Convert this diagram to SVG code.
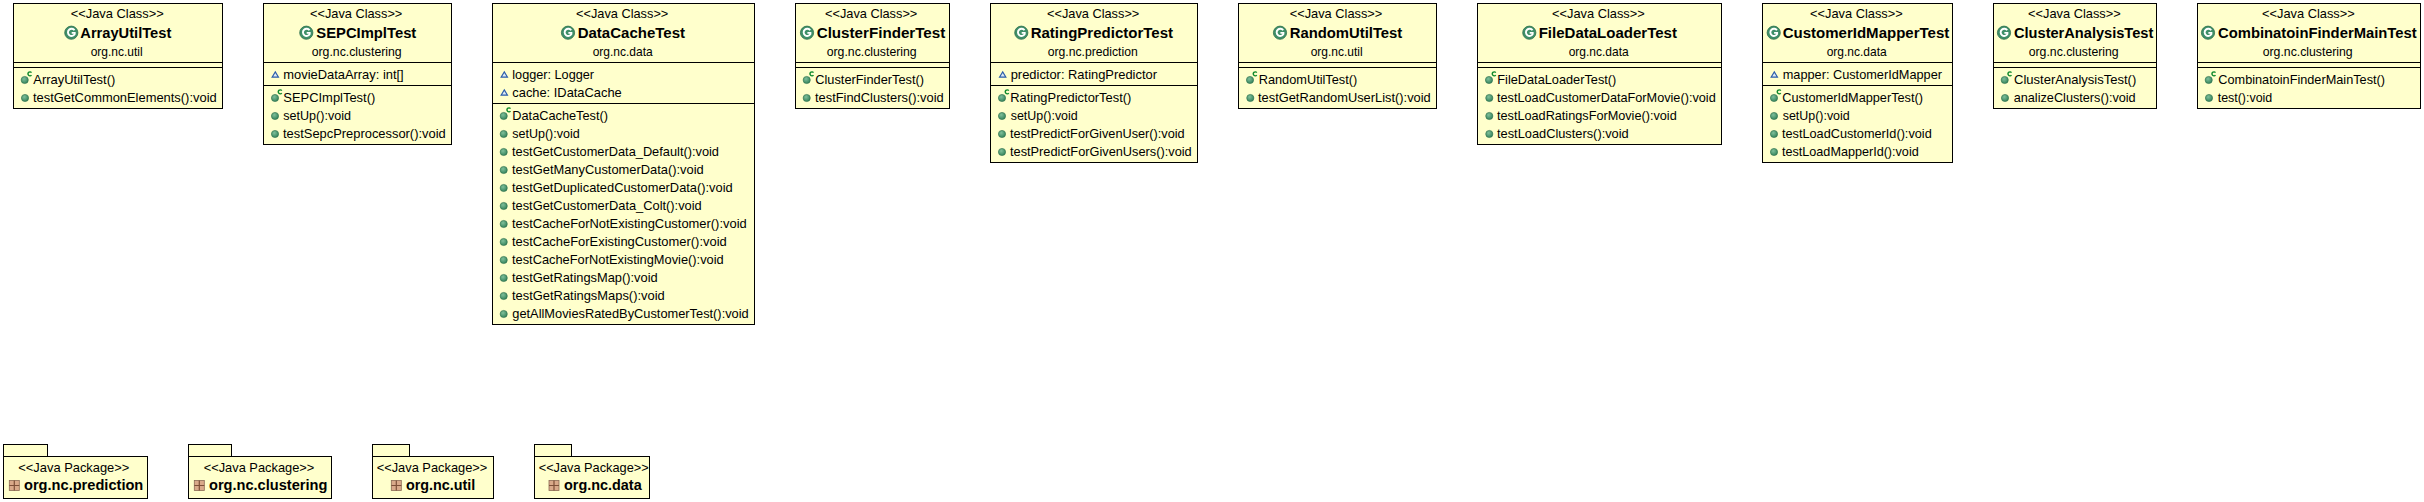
<svg xmlns="http://www.w3.org/2000/svg" width="2424" height="502" viewBox="0 0 2424 502">
<style>
text{font-family:"Liberation Sans",Arial,sans-serif;fill:#000;font-size:13px}
.n{font-weight:bold;font-size:14px}
.b{fill:#ffffcc;stroke:#000;stroke-width:1}
.l{stroke:#000;stroke-width:1;fill:none}
</style>
<defs>
<radialGradient id="gc" cx="40%" cy="35%" r="70%"><stop offset="0" stop-color="#7fbf9a"/><stop offset="1" stop-color="#2f7f57"/></radialGradient>
<g id="iClass"><circle r="6.6" fill="#3f8f68" stroke="#2c6e4c" stroke-width=".8"/><path d="M3.2 -2.4A3.6 3.6 0 1 0 3.4 1.4V.2H.4" fill="none" stroke="#fff" stroke-width="1.9"/></g>
<g id="iMethod"><circle r="3.6" fill="url(#gc)" stroke="#2c6e4c" stroke-width=".6"/></g>
<g id="iCtor"><circle r="3.6" fill="url(#gc)" stroke="#2c6e4c" stroke-width=".6"/><path d="M6.8 -7.4A2 2 0 1 0 6.8 -4.9" fill="none" stroke="#0f8a2c" stroke-width="1.4"/></g>
<path id="iField" d="M0 -2.8L3.2 2.4H-3.2Z" fill="#dbe8f5" stroke="#2a5caa" stroke-width="1.1"/>
<g id="iPkg"><rect x="-5" y="-5" width="10" height="10" fill="#d9a98a" stroke="#8a6a55" stroke-width=".8"/><path d="M-5 0H5M0 -5V5" stroke="#7d4f38" stroke-width="1.2"/></g>
</defs>
<rect width="2424" height="502" fill="#fff"/>
<g id="connectors"/>

<g id="ArrayUtilTest">
<rect class="b" x="13.5" y="3.5" width="209" height="105"/><path class="l" d="M13.5 62.5H222.5M13.5 67.5H222.5"/>
<text x="70.7" y="18" textLength="93" lengthAdjust="spacingAndGlyphs">&lt;&lt;Java Class&gt;&gt;</text>
<use href="#iClass" x="71.3" y="32.7"/>
<text class="n" x="80.3" y="38" textLength="91" lengthAdjust="spacingAndGlyphs">ArrayUtilTest</text>
<text x="90.7" y="56" textLength="52" lengthAdjust="spacingAndGlyphs">org.nc.util</text>
<use href="#iCtor" x="24.7" y="80"/><text x="33.3" y="84" textLength="82" lengthAdjust="spacingAndGlyphs">ArrayUtilTest()</text>
<use href="#iMethod" x="25" y="98"/><text x="33" y="102" textLength="183.7" lengthAdjust="spacingAndGlyphs">testGetCommonElements():void</text>
</g>

<g id="SEPCImplTest">
<rect class="b" x="263.5" y="3.5" width="188" height="141"/><path class="l" d="M263.5 62.5H451.5M263.5 85.5H451.5"/>
<text x="310" y="18" textLength="92.3" lengthAdjust="spacingAndGlyphs">&lt;&lt;Java Class&gt;&gt;</text>
<use href="#iClass" x="306.3" y="32.7"/>
<text class="n" x="316.3" y="38" textLength="100" lengthAdjust="spacingAndGlyphs">SEPCImplTest</text>
<text x="311.7" y="56" textLength="90" lengthAdjust="spacingAndGlyphs">org.nc.clustering</text>
<use href="#iField" x="275.3" y="74.7"/><text x="283.3" y="79" textLength="120.4" lengthAdjust="spacingAndGlyphs">movieDataArray: int[]</text>
<use href="#iCtor" x="275" y="98"/><text x="283.3" y="102" textLength="92" lengthAdjust="spacingAndGlyphs">SEPCImplTest()</text>
<use href="#iMethod" x="275" y="116"/><text x="283.3" y="120" textLength="67.7" lengthAdjust="spacingAndGlyphs">setUp():void</text>
<use href="#iMethod" x="275" y="134"/><text x="283" y="138" textLength="162.7" lengthAdjust="spacingAndGlyphs">testSepcPreprocessor():void</text>
</g>

<g id="DataCacheTest">
<rect class="b" x="492.5" y="3.5" width="262" height="321"/><path class="l" d="M492.5 62.5H754.5M492.5 103.5H754.5"/>
<text x="576" y="18" textLength="92.3" lengthAdjust="spacingAndGlyphs">&lt;&lt;Java Class&gt;&gt;</text>
<use href="#iClass" x="568" y="32.7"/>
<text class="n" x="577.7" y="38" textLength="107.3" lengthAdjust="spacingAndGlyphs">DataCacheTest</text>
<text x="592.7" y="56" textLength="60" lengthAdjust="spacingAndGlyphs">org.nc.data</text>
<use href="#iField" x="504.3" y="74.7"/><text x="512.3" y="79" textLength="81.7" lengthAdjust="spacingAndGlyphs">logger: Logger</text>
<use href="#iField" x="504.3" y="92.7"/><text x="512.3" y="97" textLength="109.4" lengthAdjust="spacingAndGlyphs">cache: IDataCache</text>
<use href="#iCtor" x="503.7" y="116"/><text x="512.3" y="120" textLength="95.7" lengthAdjust="spacingAndGlyphs">DataCacheTest()</text>
<use href="#iMethod" x="503.7" y="134"/><text x="512.3" y="138" textLength="67.4" lengthAdjust="spacingAndGlyphs">setUp():void</text>
<use href="#iMethod" x="503.7" y="152"/><text x="512" y="156" textLength="207" lengthAdjust="spacingAndGlyphs">testGetCustomerData_Default():void</text>
<use href="#iMethod" x="503.7" y="170"/><text x="512" y="174" textLength="191.7" lengthAdjust="spacingAndGlyphs">testGetManyCustomerData():void</text>
<use href="#iMethod" x="503.7" y="188"/><text x="512" y="192" textLength="220.7" lengthAdjust="spacingAndGlyphs">testGetDuplicatedCustomerData():void</text>
<use href="#iMethod" x="503.7" y="206"/><text x="512" y="210" textLength="189.7" lengthAdjust="spacingAndGlyphs">testGetCustomerData_Colt():void</text>
<use href="#iMethod" x="503.7" y="224"/><text x="512" y="228" textLength="234.7" lengthAdjust="spacingAndGlyphs">testCacheForNotExistingCustomer():void</text>
<use href="#iMethod" x="503.7" y="242"/><text x="512" y="246" textLength="214.7" lengthAdjust="spacingAndGlyphs">testCacheForExistingCustomer():void</text>
<use href="#iMethod" x="503.7" y="260"/><text x="512" y="264" textLength="211.7" lengthAdjust="spacingAndGlyphs">testCacheForNotExistingMovie():void</text>
<use href="#iMethod" x="503.7" y="278"/><text x="512" y="282" textLength="145.7" lengthAdjust="spacingAndGlyphs">testGetRatingsMap():void</text>
<use href="#iMethod" x="503.7" y="296"/><text x="512" y="300" textLength="152.7" lengthAdjust="spacingAndGlyphs">testGetRatingsMaps():void</text>
<use href="#iMethod" x="503.7" y="314"/><text x="512.3" y="318" textLength="236.4" lengthAdjust="spacingAndGlyphs">getAllMoviesRatedByCustomerTest():void</text>
</g>

<g id="ClusterFinderTest">
<rect class="b" x="795.5" y="3.5" width="154" height="105"/><path class="l" d="M795.5 62.5H949.5M795.5 67.5H949.5"/>
<text x="825" y="18" textLength="92.3" lengthAdjust="spacingAndGlyphs">&lt;&lt;Java Class&gt;&gt;</text>
<use href="#iClass" x="807" y="32.7"/>
<text class="n" x="816.7" y="38" textLength="128.6" lengthAdjust="spacingAndGlyphs">ClusterFinderTest</text>
<text x="826.7" y="56" textLength="90" lengthAdjust="spacingAndGlyphs">org.nc.clustering</text>
<use href="#iCtor" x="806.7" y="80"/><text x="815.3" y="84" textLength="108.7" lengthAdjust="spacingAndGlyphs">ClusterFinderTest()</text>
<use href="#iMethod" x="806.7" y="98"/><text x="815" y="102" textLength="128.7" lengthAdjust="spacingAndGlyphs">testFindClusters():void</text>
</g>

<g id="RatingPredictorTest">
<rect class="b" x="990.5" y="3.5" width="207" height="159"/><path class="l" d="M990.5 62.5H1197.5M990.5 85.5H1197.5"/>
<text x="1047" y="18" textLength="92.3" lengthAdjust="spacingAndGlyphs">&lt;&lt;Java Class&gt;&gt;</text>
<use href="#iClass" x="1021.3" y="32.7"/>
<text class="n" x="1030.7" y="38" textLength="142.3" lengthAdjust="spacingAndGlyphs">RatingPredictorTest</text>
<text x="1047.7" y="56" textLength="90" lengthAdjust="spacingAndGlyphs">org.nc.prediction</text>
<use href="#iField" x="1002.7" y="74.7"/><text x="1010.7" y="79" textLength="146.3" lengthAdjust="spacingAndGlyphs">predictor: RatingPredictor</text>
<use href="#iCtor" x="1002" y="98"/><text x="1010.3" y="102" textLength="121" lengthAdjust="spacingAndGlyphs">RatingPredictorTest()</text>
<use href="#iMethod" x="1002" y="116"/><text x="1010.7" y="120" textLength="67" lengthAdjust="spacingAndGlyphs">setUp():void</text>
<use href="#iMethod" x="1002" y="134"/><text x="1010" y="138" textLength="174.7" lengthAdjust="spacingAndGlyphs">testPredictForGivenUser():void</text>
<use href="#iMethod" x="1002" y="152"/><text x="1010" y="156" textLength="181.7" lengthAdjust="spacingAndGlyphs">testPredictForGivenUsers():void</text>
</g>

<g id="RandomUtilTest">
<rect class="b" x="1238.5" y="3.5" width="198" height="105"/><path class="l" d="M1238.5 62.5H1436.5M1238.5 67.5H1436.5"/>
<text x="1289.7" y="18" textLength="92.6" lengthAdjust="spacingAndGlyphs">&lt;&lt;Java Class&gt;&gt;</text>
<use href="#iClass" x="1280" y="32.7"/>
<text class="n" x="1289.7" y="38" textLength="112.6" lengthAdjust="spacingAndGlyphs">RandomUtilTest</text>
<text x="1310.7" y="56" textLength="52" lengthAdjust="spacingAndGlyphs">org.nc.util</text>
<use href="#iCtor" x="1250" y="80"/><text x="1258.7" y="84" textLength="98.6" lengthAdjust="spacingAndGlyphs">RandomUtilTest()</text>
<use href="#iMethod" x="1250.3" y="98"/><text x="1258" y="102" textLength="172.7" lengthAdjust="spacingAndGlyphs">testGetRandomUserList():void</text>
</g>

<g id="FileDataLoaderTest">
<rect class="b" x="1477.5" y="3.5" width="244" height="141"/><path class="l" d="M1477.5 62.5H1721.5M1477.5 67.5H1721.5"/>
<text x="1552" y="18" textLength="92.7" lengthAdjust="spacingAndGlyphs">&lt;&lt;Java Class&gt;&gt;</text>
<use href="#iClass" x="1529.3" y="32.7"/>
<text class="n" x="1538.7" y="38" textLength="138.3" lengthAdjust="spacingAndGlyphs">FileDataLoaderTest</text>
<text x="1568.7" y="56" textLength="60" lengthAdjust="spacingAndGlyphs">org.nc.data</text>
<use href="#iCtor" x="1489" y="80"/><text x="1497.3" y="84" textLength="119" lengthAdjust="spacingAndGlyphs">FileDataLoaderTest()</text>
<use href="#iMethod" x="1489.3" y="98"/><text x="1497" y="102" textLength="218.7" lengthAdjust="spacingAndGlyphs">testLoadCustomerDataForMovie():void</text>
<use href="#iMethod" x="1489.3" y="116"/><text x="1497" y="120" textLength="179.7" lengthAdjust="spacingAndGlyphs">testLoadRatingsForMovie():void</text>
<use href="#iMethod" x="1489.3" y="134"/><text x="1497" y="138" textLength="131.7" lengthAdjust="spacingAndGlyphs">testLoadClusters():void</text>
</g>

<g id="CustomerIdMapperTest">
<rect class="b" x="1762.5" y="3.5" width="190" height="159"/><path class="l" d="M1762.5 62.5H1952.5M1762.5 85.5H1952.5"/>
<text x="1810" y="18" textLength="92.7" lengthAdjust="spacingAndGlyphs">&lt;&lt;Java Class&gt;&gt;</text>
<use href="#iClass" x="1773.7" y="32.7"/>
<text class="n" x="1782.7" y="38" textLength="166.6" lengthAdjust="spacingAndGlyphs">CustomerIdMapperTest</text>
<text x="1826.7" y="56" textLength="60" lengthAdjust="spacingAndGlyphs">org.nc.data</text>
<use href="#iField" x="1774.3" y="74.7"/><text x="1782.7" y="79" textLength="159.3" lengthAdjust="spacingAndGlyphs">mapper: CustomerIdMapper</text>
<use href="#iCtor" x="1774" y="98"/><text x="1782.3" y="102" textLength="140.7" lengthAdjust="spacingAndGlyphs">CustomerIdMapperTest()</text>
<use href="#iMethod" x="1774" y="116"/><text x="1782.7" y="120" textLength="67" lengthAdjust="spacingAndGlyphs">setUp():void</text>
<use href="#iMethod" x="1774" y="134"/><text x="1782" y="138" textLength="149.7" lengthAdjust="spacingAndGlyphs">testLoadCustomerId():void</text>
<use href="#iMethod" x="1774" y="152"/><text x="1782" y="156" textLength="136.7" lengthAdjust="spacingAndGlyphs">testLoadMapperId():void</text>
</g>

<g id="ClusterAnalysisTest">
<rect class="b" x="1993.5" y="3.5" width="163" height="105"/><path class="l" d="M1993.5 62.5H2156.5M1993.5 67.5H2156.5"/>
<text x="2028" y="18" textLength="92.7" lengthAdjust="spacingAndGlyphs">&lt;&lt;Java Class&gt;&gt;</text>
<use href="#iClass" x="2004" y="32.7"/>
<text class="n" x="2014" y="38" textLength="139.3" lengthAdjust="spacingAndGlyphs">ClusterAnalysisTest</text>
<text x="2028.7" y="56" textLength="90" lengthAdjust="spacingAndGlyphs">org.nc.clustering</text>
<use href="#iCtor" x="2004.7" y="80"/><text x="2014" y="84" textLength="122.3" lengthAdjust="spacingAndGlyphs">ClusterAnalysisTest()</text>
<use href="#iMethod" x="2005" y="98"/><text x="2013.7" y="102" textLength="122" lengthAdjust="spacingAndGlyphs">analizeClusters():void</text>
</g>

<g id="CombinatoinFinderMainTest">
<rect class="b" x="2197.5" y="3.5" width="223" height="105"/><path class="l" d="M2197.5 62.5H2420.5M2197.5 67.5H2420.5"/>
<text x="2262" y="18" textLength="92.7" lengthAdjust="spacingAndGlyphs">&lt;&lt;Java Class&gt;&gt;</text>
<use href="#iClass" x="2208" y="32.7"/>
<text class="n" x="2218" y="38" textLength="198.7" lengthAdjust="spacingAndGlyphs">CombinatoinFinderMainTest</text>
<text x="2262.7" y="56" textLength="90" lengthAdjust="spacingAndGlyphs">org.nc.clustering</text>
<use href="#iCtor" x="2208.7" y="80"/><text x="2218.3" y="84" textLength="166.7" lengthAdjust="spacingAndGlyphs">CombinatoinFinderMainTest()</text>
<use href="#iMethod" x="2209" y="98"/><text x="2217.7" y="102" textLength="54.6" lengthAdjust="spacingAndGlyphs">test():void</text>
</g>

<g id="pkg-prediction">
<rect class="b" x="3.5" y="444.5" width="44" height="12"/><rect class="b" x="3.5" y="456.5" width="144" height="42"/>
<text x="18.3" y="471.5" textLength="111" lengthAdjust="spacingAndGlyphs">&lt;&lt;Java Package&gt;&gt;</text>
<use href="#iPkg" x="14.3" y="485.5"/><text class="n" x="24" y="490.3" textLength="119.3" lengthAdjust="spacingAndGlyphs">org.nc.prediction</text>
</g>
<g id="pkg-clustering">
<rect class="b" x="188.5" y="444.5" width="43" height="12"/><rect class="b" x="188.5" y="456.5" width="143" height="42"/>
<text x="203.7" y="471.5" textLength="110.6" lengthAdjust="spacingAndGlyphs">&lt;&lt;Java Package&gt;&gt;</text>
<use href="#iPkg" x="199.3" y="485.5"/><text class="n" x="209" y="490.3" textLength="118.3" lengthAdjust="spacingAndGlyphs">org.nc.clustering</text>
</g>
<g id="pkg-util">
<rect class="b" x="372.5" y="444.5" width="37" height="12"/><rect class="b" x="372.5" y="456.5" width="121" height="42"/>
<text x="376.7" y="471.5" textLength="110.6" lengthAdjust="spacingAndGlyphs">&lt;&lt;Java Package&gt;&gt;</text>
<use href="#iPkg" x="396.3" y="485.5"/><text class="n" x="406" y="490.3" textLength="69.3" lengthAdjust="spacingAndGlyphs">org.nc.util</text>
</g>
<g id="pkg-data">
<rect class="b" x="534.5" y="444.5" width="37" height="12"/><rect class="b" x="534.5" y="456.5" width="115" height="42"/>
<text x="538.7" y="471.5" textLength="110" lengthAdjust="spacingAndGlyphs">&lt;&lt;Java Package&gt;&gt;</text>
<use href="#iPkg" x="554" y="485.5"/><text class="n" x="564" y="490.3" textLength="77.7" lengthAdjust="spacingAndGlyphs">org.nc.data</text>
</g>
</svg>
